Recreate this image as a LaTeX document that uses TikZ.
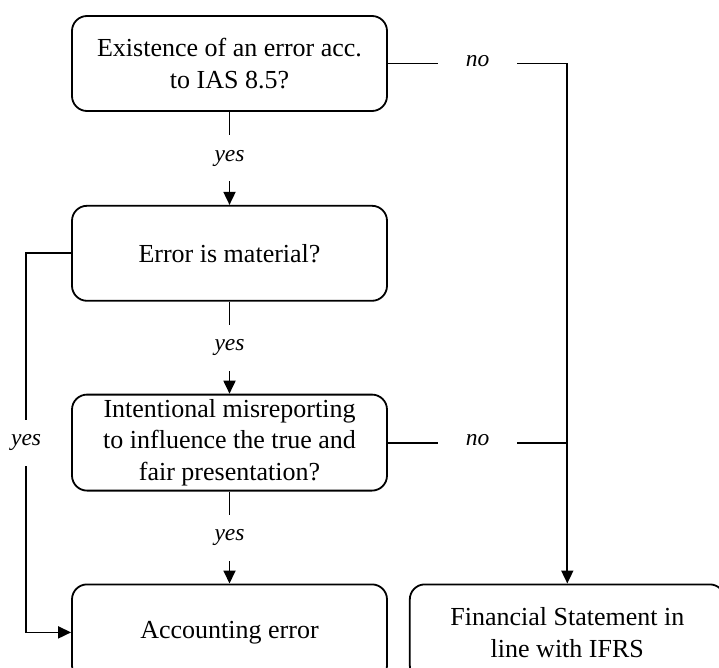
\documentclass[tikz,border=0pt]{standalone}
\usepackage{fontspec}
\setmainfont{Liberation Serif}
\usetikzlibrary{positioning,arrows.meta}
\def\BoxW{315pt}
\def\BoxH{95pt}
\def\Lw{1.8pt}

\tikzset{
    box/.style={draw,line width=\Lw,rounded corners=15pt,minimum width=\BoxW,minimum height=\BoxH,
        align=center,inner sep=0pt,font=\fontsize{26}{31.5}\selectfont},
    lbl/.style={fill=white,font=\fontsize{23.5}{28}\selectfont\itshape,text height=11pt,text depth=5pt,
        inner xsep=28pt,inner ysep=15pt},
    conn/.style={line width=\Lw},
    tip/.style={conn,-{Triangle[length=13pt,width=12pt]}},
}

\begin{document}
\begin{tikzpicture}[x=1pt,y=-1pt,node distance=92pt]
    \path[use as bounding box] (0,0) rectangle (719,668);
    % questions
    \node[box] (exist) at (229.5,63.5) {Existence of an error acc.\\to IAS 8.5?};
    \node[box,below=93pt of exist] (material) {Error is material?};
    \node[box,minimum height=96pt,below=of material] (intent) {Intentional misreporting\\to influence the true and\\fair presentation?};
    % outcomes
    \node[box,minimum height=96pt,below=of intent] (accerr) {Accounting error};
    \node[box,minimum height=96pt,right=21pt of accerr] (fin) {Financial Statement in\\line with IFRS};
    % yes branches
    \draw[tip] (exist) -- node[lbl]{yes} (material);
    \draw[tip] (material) -- node[lbl]{yes} (intent);
    \draw[tip] (intent) -- node[lbl]{yes} (accerr);
    \draw[tip] (material.west) -- ++(-45,0) |- node[lbl,pos=0.25]{yes} (accerr.west);
    % no branches
    \draw[tip] (exist.east) -- node[lbl]{no} (exist.east -| fin.north) -- (fin.north);
    \draw[conn] (intent.east) -- node[lbl]{no} (intent.east -| fin.north);
\end{tikzpicture}
\end{document}
